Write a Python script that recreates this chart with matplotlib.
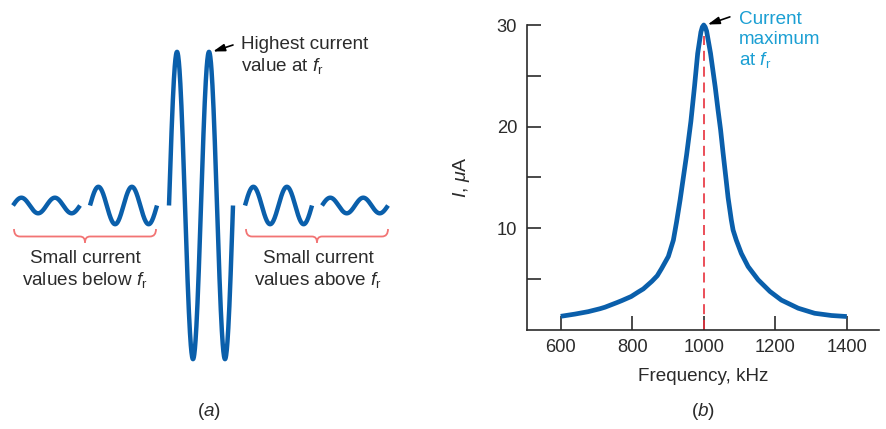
import numpy as np
import matplotlib
matplotlib.use('Agg')
import matplotlib.pyplot as plt
from matplotlib.path import Path
from matplotlib.patches import PathPatch

plt.rcParams['font.family'] = ['Liberation Sans', 'DejaVu Sans']
plt.rcParams['mathtext.fontset'] = 'custom'
plt.rcParams['mathtext.rm'] = 'Liberation Sans'
plt.rcParams['mathtext.it'] = 'Liberation Sans:italic'
plt.rcParams['mathtext.bf'] = 'Liberation Sans:bold'

# (a) relative current amplitude of each wave train, low f -> f_r -> high f
wave_amp = [1.0, 2.4, 19.7, 2.4, 1.0]

# (b) resonance curve, frequency in kHz, current in uA
freq = [600, 640, 677, 710, 724, 757, 771, 797, 817, 831, 855, 870, 882,
        901, 915, 924, 934, 943, 952, 964, 974, 983, 992, 996, 1000,
        1004, 1008, 1019, 1032, 1040, 1047, 1054, 1063, 1068, 1077, 1082,
        1091, 1105, 1124, 1152, 1185, 1217, 1264, 1310, 1357, 1400]
current = [1.3, 1.52, 1.76, 2.05, 2.2, 2.65, 2.85, 3.25, 3.7, 4.0, 4.75,
           5.3, 6.0, 7.2, 8.8, 10.6, 12.8, 15.0, 17.2, 20.5, 23.9, 27.2,
           29.3, 29.8, 30.0, 29.8, 29.4, 27.2, 23.9, 21.6, 19.7, 17.4,
           14.6, 13.0, 10.8, 9.8, 8.8, 7.5, 6.2, 4.9, 3.75, 2.9, 2.1, 1.6,
           1.38, 1.28]
xticks = [600, 800, 1000, 1200, 1400]
yticks = [10, 20, 30]

blue = '#0a5fab'
cyan = '#1b9fd3'
red_brace = '#f27474'
red_dash = '#e8303c'
dark = '#2b2b2b'
fs = 13.6

fig = plt.figure(figsize=(8.86, 4.29), dpi=100)

# ---- panel (a), drawn in pixel coordinates
axa = fig.add_axes([0, 0, 1, 1])
axa.set_xlim(0, 886)
axa.set_ylim(429, 0)
axa.axis('off')

x0s = [13, 90, 169, 245, 322]
widths = [67, 67, 64, 67, 66]
yc = 205.5
scale = 7.8
for a, x0, w in zip(wave_amp, x0s, widths):
    t = np.linspace(0, 4 * np.pi, 300)
    axa.plot(x0 + t / (4 * np.pi) * w, yc - a * scale * np.sin(t),
             color=blue, lw=3.2, solid_capstyle='butt')


def brace(ax, xl, xr, ytop=229, yline=236.5, ybot=242.5):
    xm = (xl + xr) / 2
    verts = [(xl, ytop), (xl, yline), (xl + 6, yline),
             (xm - 5, yline), (xm, yline), (xm, ybot),
             (xm, yline), (xm + 5, yline),
             (xr - 6, yline), (xr, yline), (xr, ytop)]
    codes = [Path.MOVETO, Path.CURVE3, Path.CURVE3,
             Path.LINETO, Path.CURVE3, Path.CURVE3,
             Path.CURVE3, Path.CURVE3,
             Path.LINETO, Path.CURVE3, Path.CURVE3]
    ax.add_patch(PathPatch(Path(verts, codes), fill=False,
                           edgecolor=red_brace, lw=1.3))


brace(axa, 14, 156)
brace(axa, 246, 388)

axa.text(85, 270, 'Small current\nvalues below $f_\\mathrm{r}$', ha='center',
         va='center', fontsize=fs, color=dark, linespacing=1.15)
axa.text(318, 270, 'Small current\nvalues above $f_\\mathrm{r}$', ha='center',
         va='center', fontsize=fs, color=dark, linespacing=1.15)
axa.text(241, 56, 'Highest current\nvalue at $f_\\mathrm{r}$', ha='left',
         va='center', fontsize=fs, color=dark, linespacing=1.15)
axa.annotate('', xy=(213, 51.5), xytext=(233, 45),
             arrowprops=dict(arrowstyle='-|>,head_length=0.7,head_width=0.22',
                             color='black', lw=1.2, shrinkA=0, shrinkB=0))
axa.text(209, 412, '($a$)', ha='center', va='center', fontsize=fs, color=dark)
axa.text(703, 412, '($b$)', ha='center', va='center', fontsize=fs, color=dark)

# ---- panel (b)
ax = fig.add_axes([0.5945, 0.2319, 0.398, 0.7098])
ax.patch.set_alpha(0)
ax.plot(freq, current, color=blue, lw=3.4, clip_on=False,
        solid_capstyle='butt', solid_joinstyle='round', zorder=3)
ax.plot([1000, 1000], [0, 28.9], color=red_dash, lw=1.2,
        dashes=(6, 3.5), zorder=2)
ax.set_xlim(505, 1491)
ax.set_ylim(0, 30)
ax.set_xticks(xticks)
ax.set_yticks(yticks)
ax.set_yticks([5, 15, 25], minor=True)
ax.tick_params(axis='both', which='both', direction='in', length=10,
               width=1.2, color=dark, labelsize=13.2, labelcolor=dark, pad=7)
for s in ['top', 'right']:
    ax.spines[s].set_visible(False)
for s in ['left', 'bottom']:
    ax.spines[s].set_linewidth(1.2)
    ax.spines[s].set_color(dark)

ax.set_xlabel('Frequency, kHz', fontsize=fs, color=dark)
ax.xaxis.set_label_coords(0.5, -0.125)
fig.text(461.7 / 886, 1 - 176.7 / 429, '$I$, $\\mu$A', rotation=90,
         ha='center', va='center', fontsize=14, color=dark)

ax.annotate('', xy=(1011, 30.05), xytext=(1073, 30.8), annotation_clip=False,
            arrowprops=dict(arrowstyle='-|>,head_length=0.7,head_width=0.22',
                            color='black', lw=1.2, shrinkA=0, shrinkB=0))
ax.text(1098, 28.45, 'Current\nmaximum\nat $f_\\mathrm{r}$', ha='left',
        va='center', fontsize=fs, color=cyan, linespacing=1.18, clip_on=False)

fig.savefig('out.png', dpi=100)
